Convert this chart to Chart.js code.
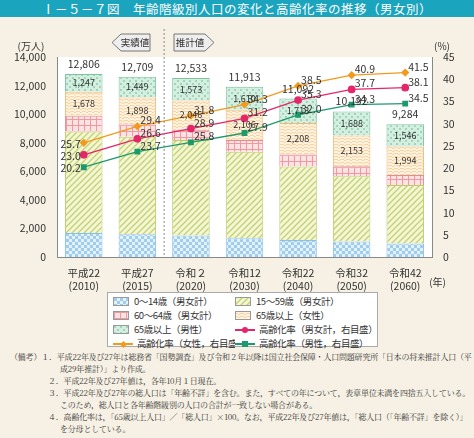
<!DOCTYPE html>
<html><head><meta charset="utf-8">
<script src="https://cdn.jsdelivr.net/npm/chart.js@4"></script>
<style>
body{margin:0;width:474px;height:438px;background:#f6f1e4;font-family:"Noto Sans CJK JP",sans-serif;overflow:hidden;position:relative}
#title{height:17px;background:#1ba4bd;color:#fff;font-size:12.5px;line-height:17px;text-align:center;letter-spacing:.5px}
#wrap{position:absolute;left:0;top:17px;width:474px;height:275px}
#legend{position:absolute;left:107px;top:292px;width:271px;height:55px;background:#fff;border:1px solid #aaa;font-size:9.5px;letter-spacing:-0.4px;color:#333;box-sizing:border-box;padding:2px 0 0 5px}
#legend div{display:inline-block;height:12.5px;line-height:12.5px;white-space:nowrap;overflow:hidden;vertical-align:top}
#legend div:nth-child(odd){width:122px}
#legend div:nth-child(even){width:142px}
.sw{display:inline-block;width:16px;height:9px;vertical-align:-1px;margin-right:5px;border:1px solid #999;box-sizing:border-box}
.ln{display:inline-block;width:20px;height:9px;vertical-align:-1px;margin-right:4px;position:relative}
#notes{position:absolute;left:6px;top:351px;font-size:8px;letter-spacing:-0.2px;color:#333;line-height:12px;font-family:"Noto Serif CJK JP","Noto Sans CJK JP",serif}
#notes p{margin:0;padding-left:54px;text-indent:-12px}
</style></head><body>
<div id="title">Ⅰ－５－７図　年齢階級別人口の変化と高齢化率の推移（男女別）</div>
<div id="wrap"><canvas id="c"></canvas></div>
<div id="legend"></div>
<div id="notes">
<p style="padding-left:54px;text-indent:-50px">（備考）１．平成22年及び27年は総務省「国勢調査」及び令和２年以降は国立社会保障・人口問題研究所「日本の将来推計人口（平成29年推計）」より作成。</p>
<p>２．平成22年及び27年値は，各年10月１日現在。</p>
<p>３．平成22年及び27年の総人口は「年齢不詳」を含む。また，すべての年について，表章単位未満を四捨五入している。このため，総人口と各年齢階級別の人口の合計が一致しない場合がある。</p>
<p>４．高齢化率は，「65歳以上人口」／「総人口」×100。なお，平成22年及び27年値は，「総人口（「年齢不詳」を除く）」を分母としている。</p>
</div>
<script>
// data
const years = [['平成22','(2010)'],['平成27','(2015)'],['令和２','(2020)'],['令和12','(2030)'],['令和22','(2040)'],['令和32','(2050)'],['令和42','(2060)']];
const age0_14 = [1684, 1595, 1507, 1321, 1194, 1077, 951];
const age15_59 = [7100, 6830, 6680, 6050, 5137, 4574, 4093];
const age60_64 = [1097, 850, 727, 826, 840, 700, 700];
const age65f = [1678, 1898, 2046, 2106, 2208, 2153, 1994];
const age65m = [1247, 1449, 1573, 1610, 1713, 1688, 1546];
const totals = [12806, 12709, 12533, 11913, 11092, 10192, 9284];
const rateAll = [23.0, 26.6, 28.9, 31.2, 35.3, 37.7, 38.1];
const rateF = [25.7, 29.4, 31.8, 34.3, 38.5, 40.9, 41.5];
const rateM = [20.2, 23.7, 25.8, 27.9, 32.0, 34.3, 34.5];

//patterns
function makePat(kind){
  const c = document.createElement('canvas'); c.width = 6; c.height = 6;
  const g = c.getContext('2d');
  if(kind=='blue'){g.fillStyle='#e3f1fb';g.fillRect(0,0,6,6);g.fillStyle='#9fcdee';g.fillRect(0,0,3,3);g.fillRect(3,3,3,3);}
  if(kind=='stripe'){g.fillStyle='#f4f6d8';g.fillRect(0,0,6,6);g.strokeStyle='#c4d16e';g.lineWidth=1.3;
    g.beginPath();g.moveTo(0,6);g.lineTo(6,0);g.moveTo(-3,3);g.lineTo(3,-3);g.moveTo(3,9);g.lineTo(9,3);g.stroke();}
  if(kind=='pink'){g.fillStyle='#fbe3e3';g.fillRect(0,0,6,6);g.fillStyle='#ef9aa0';g.fillRect(0,0,6,1);g.fillRect(0,0,1,6);}
  if(kind=='orange'){g.fillStyle='#fff3e0';g.fillRect(0,0,6,6);g.fillStyle='#f8d4a4';g.fillRect(0,1,2,1);g.fillRect(2,2,2,1);g.fillRect(4,1,2,1);g.fillRect(0,4,2,1);g.fillRect(2,5,2,1);g.fillRect(4,4,2,1);}
  if(kind=='green'){g.fillStyle='#d4eee0';g.fillRect(0,0,6,6);g.fillStyle='#9fd5bb';g.fillRect(0,0,2,2);g.fillRect(3,3,2,2);}
  return c;
}
const ctx = document.getElementById('c').getContext('2d');
const pats = {};
['blue','stripe','pink','orange','green'].forEach(k => pats[k] = makePat(k));
const P = k => ctx.createPattern(pats[k], 'repeat');

const barDs = (label, data, pat, border) => ({type:'bar', label, data, backgroundColor:P(pat), borderColor:border, borderWidth:1, yAxisID:'y', order:2, barPercentage:0.7, categoryPercentage:1});
const lineDs = (label, data, color, style) => ({type:'line', label, data, borderColor:color, backgroundColor:color, borderWidth:1.3, pointStyle:style, pointRadius:3.2, yAxisID:'y1', order:1});

const labelPlugin = {
  id:'labels',
  afterDraw(chart){
    const g = chart.ctx; const ys = chart.scales.y; const xs = chart.scales.x;
    g.save();
    g.fillStyle = '#333'; g.textAlign = 'center'; g.textBaseline = 'middle';
    const fmt = v => v.toLocaleString('en-US');
    for(let i=0;i<7;i++){
      const x = xs.getPixelForValue(i);
      g.font = '10.5px "Noto Sans CJK JP"';
      g.fillText(fmt(totals[i]), x, ys.getPixelForValue(age0_14[i]+age15_59[i]+age60_64[i]+age65f[i]+age65m[i]) - 10);
      g.font = '9px "Noto Sans CJK JP"';
      [[3,age65f],[4,age65m]].forEach(([d,arr]) => {
        const m = chart.getDatasetMeta(d).data[i];
        g.fillText(fmt(arr[i]), x, (m.y + m.base)/2);
      });
    }
    // line value labels
    g.font = '10.5px "Noto Sans CJK JP"';
    [[5,rateAll],[6,rateF],[7,rateM]].forEach(([d,arr]) => {
      chart.getDatasetMeta(d).data.forEach((p,i) => {
        const t = arr[i].toFixed(1);
        if(i==0){g.textAlign='right'; g.fillText(t, p.x-3, p.y+1);}
        else {g.textAlign='left'; g.fillText(t, p.x+3, p.y-6);}
      });
    });
    // dashed divider
    const dx = (xs.getPixelForValue(1)+xs.getPixelForValue(2))/2;
    g.strokeStyle='#888'; g.setLineDash([2,2]); g.lineWidth=1;
    g.beginPath(); g.moveTo(dx,12); g.lineTo(dx,chart.chartArea.bottom); g.stroke(); g.setLineDash([]);
    // arrows
    const arrow = (x0, x1, dir, text) => {
      const yt = 17, yb = 34, ym = 25.5;
      g.beginPath();
      if(dir<0){g.moveTo(x0,ym);g.lineTo(x0+9,yt);g.lineTo(x1,yt);g.lineTo(x1,yb);g.lineTo(x0+9,yb);}
      else {g.moveTo(x1,ym);g.lineTo(x1-9,yt);g.lineTo(x0,yt);g.lineTo(x0,yb);g.lineTo(x1-9,yb);}
      g.closePath(); g.fillStyle='#eee'; g.fill(); g.strokeStyle='#777'; g.stroke();
      g.fillStyle='#333'; g.textAlign='center'; g.font='9.5px "Noto Sans CJK JP"';
      g.fillText(text, (x0+x1)/2 + (dir<0?4:-4), ym);
    };
    arrow(112, 150, -1, '実績値');
    arrow(174, 214, 1, '推計値');
    // units
    g.font='10px "Noto Sans CJK JP"'; g.fillStyle='#333';
    g.textAlign='center'; g.fillText('(万人)', 31, 29); g.fillText('(%)', 442, 29);
    g.textAlign='left'; g.fillText('(年)', xs.getPixelForValue(6)+24, chart.chartArea.bottom+25);
    g.restore();
  }
};

const chart = new Chart(ctx, {
  data:{
    labels: years,
    datasets:[
      barDs('0～14歳（男女計）', age0_14, 'blue', '#8cc0e6'),
      barDs('15～59歳（男女計）', age15_59, 'stripe', '#bccb6a'),
      barDs('60～64歳（男女計）', age60_64, 'pink', '#e48a91'),
      barDs('65歳以上（女性）', age65f, 'orange', '#efbb79'),
      barDs('65歳以上（男性）', age65m, 'green', '#7cc3a0'),
      lineDs('高齢化率（男女計，右目盛）', rateAll, '#e6266a', 'circle'),
      lineDs('高齢化率（女性，右目盛）', rateF, '#f39a1e', 'rectRot'),
      lineDs('高齢化率（男性，右目盛）', rateM, '#1d9a6c', 'rect')
    ]
  },
  options:{
    responsive:true, maintainAspectRatio:false, animation:false,
    layout:{padding:{top:40,left:0,right:0,bottom:0}},
    plugins:{legend:{display:false}, tooltip:{enabled:false}},
    scales:{
      x:{stacked:true, grid:{display:false}, border:{color:'#888'},
        ticks:{color:'#333', font:{size:10.5, family:'"Noto Sans CJK JP"'}, padding:2},
        afterFit(s){ s.height = 35; }},
      y:{stacked:true, min:0, max:14000, position:'left',
        ticks:{stepSize:2000, color:'#333', font:{size:10.5, family:'"Noto Sans CJK JP"'}, callback:v=>v.toLocaleString('en-US')},
        grid:{display:false}, border:{color:'#888'},
        afterFit(s){ s.width = 57; }},
      y1:{min:0, max:45, position:'right',
        ticks:{stepSize:5, color:'#333', font:{size:10.5, family:'"Noto Sans CJK JP"'}},
        grid:{display:false}, border:{color:'#888'},
        afterFit(s){ s.width = 42; }}
    }
  },
  plugins:[{id:'bg', beforeDraw(c){const a=c.chartArea; c.ctx.save(); c.ctx.fillStyle='#fff'; c.ctx.fillRect(a.left,a.top,a.right-a.left,a.bottom-a.top); c.ctx.restore();}}, labelPlugin]
});

// legend
const lg = document.getElementById('legend');
const items = [
  ['sw','blue','0～14歳（男女計）'],['sw','stripe','15～59歳（男女計）'],
  ['sw','pink','60～64歳（男女計）'],['sw','orange','65歳以上（女性）'],
  ['sw','green','65歳以上（男性）'],['ln','#e6266a','高齢化率（男女計，右目盛）','50%'],
  ['ln','#f39a1e','高齢化率（女性，右目盛）','0;transform:rotate(45deg);width:5px;height:5px;top:2.5px;left:7.5px'],['ln','#1d9a6c','高齢化率（男性，右目盛）','0']
];
items.forEach(([t,k,txt,r]) => {
  const d = document.createElement('div');
  if(t=='sw') d.innerHTML = `<span class="sw" style="background-image:url(${pats[k].toDataURL()})"></span>${txt}`;
  else d.innerHTML = `<span class="ln"><span style="position:absolute;left:0;top:4px;width:20px;height:1.5px;background:${k}"></span><span style="position:absolute;left:7px;top:2px;width:6px;height:6px;background:${k};border-radius:${r}"></span></span>${txt}`;
  lg.appendChild(d);
});
</script>
</body></html>
